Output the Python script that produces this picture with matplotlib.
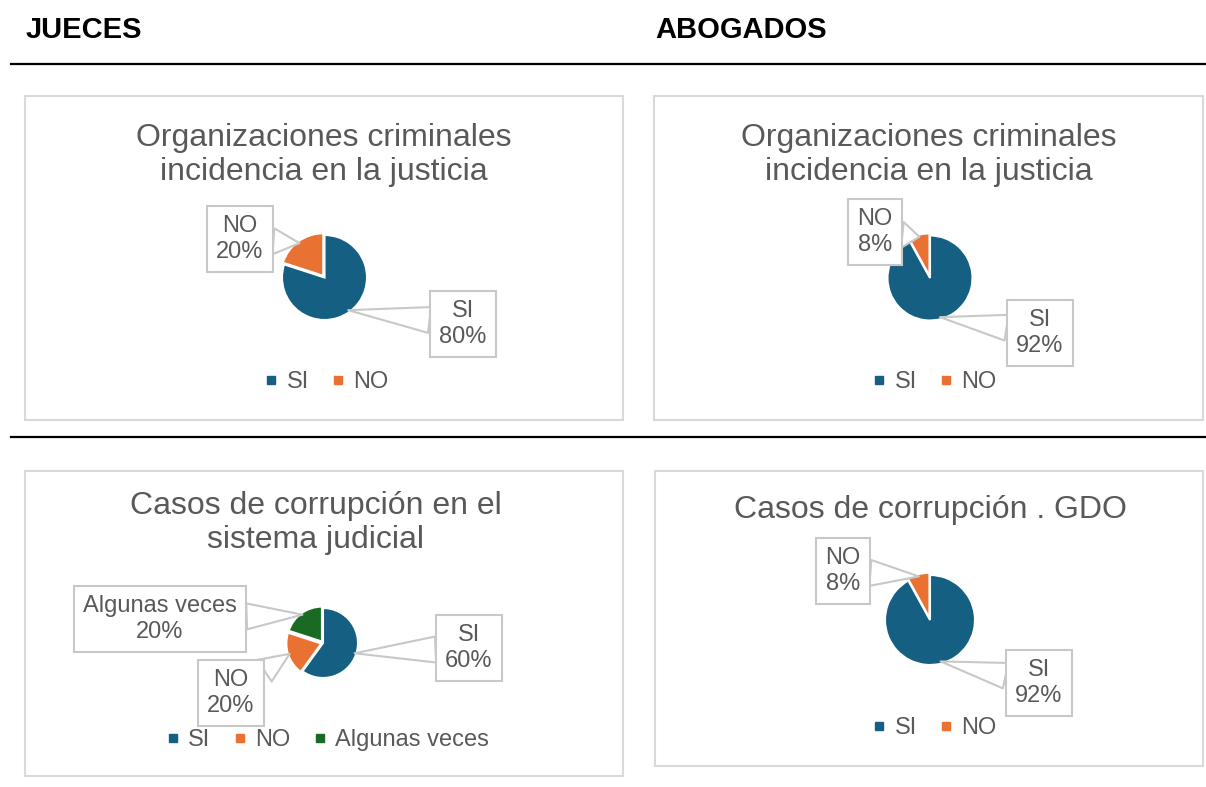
import numpy as np
import matplotlib
matplotlib.use("Agg")
import matplotlib.pyplot as plt
from matplotlib.patches import Rectangle
from matplotlib.lines import Line2D

plt.rcParams['font.family'] = ['Liberation Sans', 'DejaVu Sans']

# ---- data ----
group_headers = ["JUECES", "ABOGADOS"]

p1_title = "Organizaciones criminales\nincidencia en la justicia"
p1_categories = ["SI", "NO"]
p1_values = [80, 20]

p2_title = "Organizaciones criminales\nincidencia en la justicia"
p2_categories = ["SI", "NO"]
p2_values = [92, 8]

p3_title = "Casos de corrupción en el\nsistema judicial"
p3_categories = ["SI", "NO", "Algunas veces"]
p3_values = [60, 20, 20]

p4_title = "Casos de corrupción . GDO"
p4_categories = ["SI", "NO"]
p4_values = [92, 8]

COLORS = ['#156082', '#E97132', '#196B24']
TXT = '#595959'

W, H = 1206, 787
fig = plt.figure(figsize=(W / 100, H / 100), dpi=100)


def fx(x):
    return x / W


def fy(y):
    return 1 - y / H


# headers and separators
fig.text(fx(26), fy(30), group_headers[0], fontsize=21, fontweight='bold', color='black', ha='left', va='center')
fig.text(fx(655), fy(30), group_headers[1], fontsize=21, fontweight='bold', color='black', ha='left', va='center')
for yy in (64, 437):
    fig.add_artist(Line2D([fx(11), fx(1206)], [fy(yy), fy(yy)], color='black', lw=1.6))

panels = [
    dict(title=p1_title, cats=p1_categories, vals=p1_values, box=(25, 96, 623, 420),
         title_xy=(324, 155), pie=(324.5, 277.5, 42.5),
         lab=[(463, 324), (240, 239)], leg=(327, 382)),
    dict(title=p2_title, cats=p2_categories, vals=p2_values, box=(654, 96, 1203, 420),
         title_xy=(929, 155), pie=(930, 278, 42.5),
         lab=[(1040, 333), (875, 232)], leg=(935, 382)),
    dict(title=p3_title, cats=p3_categories, vals=p3_values, box=(25, 471, 623, 776),
         title_xy=(316, 523), pie=(323, 643, 35),
         lab=[(469, 648), (231, 693), (160, 619)], leg=(328, 740)),
    dict(title=p4_title, cats=p4_categories, vals=p4_values, box=(655, 471, 1203, 766),
         title_xy=(930, 510), pie=(930, 620, 45),
         lab=[(1039, 683), (843, 571)], leg=(935, 728)),
]

for p in panels:
    x0, y0, x1, y1 = p['box']
    fig.add_artist(Rectangle((fx(x0), fy(y1)), fx(x1 - x0), (y1 - y0) / H,
                             fill=False, edgecolor='#D9D9D9', lw=1.5))
    fig.text(fx(p['title_xy'][0]), fy(p['title_xy'][1]), p['title'], fontsize=23,
             color=TXT, ha='center', va='center', linespacing=1.15)

    cx, cy, r = p['pie']
    lim = 1.15
    half = r * lim
    ax = fig.add_axes([fx(cx - half), fy(cy + half), 2 * half / W, 2 * half / H])
    n = len(p['vals'])
    explode = [0] + [0.05] * (n - 1)
    wedges, _ = ax.pie(p['vals'], colors=COLORS[:n], startangle=90, counterclock=False,
                       explode=explode, wedgeprops=dict(edgecolor='white', linewidth=1.5))
    ax.set_xlim(-lim, lim)
    ax.set_ylim(-lim, lim)
    ax.set_aspect('equal')
    ax.axis('off')

    for w, cat, v, (lx, ly) in zip(wedges, p['cats'], p['vals'], p['lab']):
        ang = np.deg2rad((w.theta1 + w.theta2) / 2)
        tip = (w.center[0] + 0.95 * w.r * np.cos(ang), w.center[1] + 0.95 * w.r * np.sin(ang))
        ax.annotate(f"{cat}\n{v}%", xy=tip, xycoords='data',
                    xytext=(lx, H - ly), textcoords='figure pixels',
                    ha='center', va='center', fontsize=17, color=TXT, linespacing=1.2,
                    bbox=dict(boxstyle='square,pad=0.38', fc='white', ec='#C8C8C8', lw=1.5),
                    arrowprops=dict(arrowstyle='wedge,tail_width=1.1,shrink_factor=0.5',
                                    fc='white', ec='#C8C8C8', lw=1.5, shrinkA=0, shrinkB=0),
                    annotation_clip=False)

    handles = [Line2D([], [], marker='s', linestyle='', color=COLORS[i], markersize=6)
               for i in range(n)]
    fig.legend(handles, p['cats'], loc='center', bbox_to_anchor=(fx(p['leg'][0]), fy(p['leg'][1])),
               ncol=n, frameon=False, fontsize=17, labelcolor=TXT,
               handlelength=0.5, handletextpad=0.4, columnspacing=1.0, borderpad=0)

fig.savefig('out.png', dpi=100)
